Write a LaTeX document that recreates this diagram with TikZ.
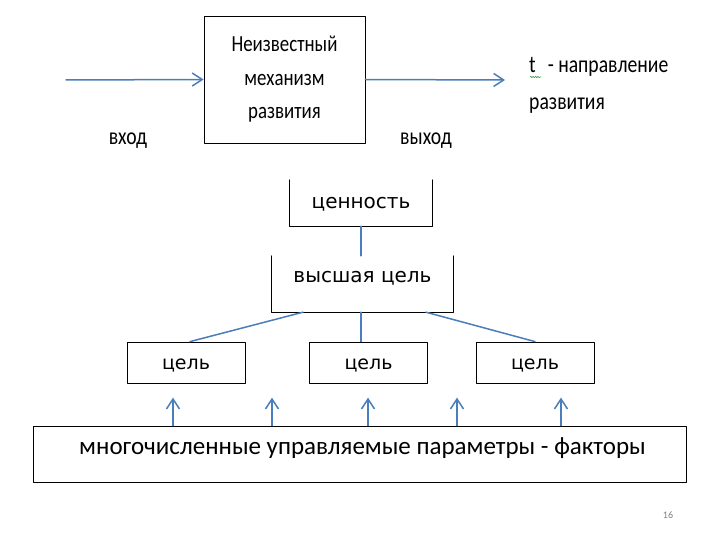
\documentclass[tikz,border=0pt]{standalone}
\usepackage{fontspec}
\setmainfont{Carlito}
\newfontfamily\narrowfont[FakeStretch=0.82]{Carlito}
\newfontfamily\dejavu{DejaVu Sans}
\usetikzlibrary{arrows.meta,calc,positioning,decorations.pathmorphing}
\definecolor{flowblue}{RGB}{74,126,187}
\definecolor{spellgreen}{RGB}{60,160,60}

\begin{document}
\begin{tikzpicture}[x=1pt,y=-1pt,>={Straight Barb[length=10pt,width=13pt]},line cap=round,line join=round,
  flow/.style={flowblue,line width=1.5pt},
  frame/.style={draw=black,line width=0.8pt},
  toptext/.style={font=\narrowfont\fontsize{24}{28}\selectfont,inner sep=0pt},
  goal/.style={frame,minimum width=118pt,inner sep=0pt,text height=27pt,text depth=14pt,
    font=\dejavu\fontsize{19}{22}\selectfont}]
 \useasboundingbox (0,0) rectangle (720,540);
 % black box
 \node[frame,minimum width=161pt,minimum height=127pt,align=center,
  font=\narrowfont\fontsize{23}{33.5}\selectfont] (mech) at (284.5,79.5)
  {Неизвестный\\механизм\\развития};
 \coordinate (in) at (66,80);
 \coordinate (out) at (505,80);
 \draw[->,flow] (in) -- (mech.west);
 \draw[->,flow] (mech.east) -- (out);
 \node[toptext,anchor=base] (inlabel) at (128,145) {вход};
 \node[toptext,anchor=base] (outlabel) at (426,145) {выход};
 \node[toptext,anchor=base west] (dir) at (529,73) {t\enspace- направление};
 \node[toptext,anchor=base west] (dir2) at (529,110) {развития};
 \draw[spellgreen,line width=0.6pt,decorate,
  decoration={snake,amplitude=0.7pt,segment length=2.4pt}] (530,77) -- (541,77);
 % tree of goals
 \node[minimum width=142pt,inner sep=0pt,text height=28pt,text depth=18pt,
  font=\dejavu\fontsize{20}{24}\selectfont] (value) at (361,203) {ценность};
 \draw[frame] (value.north west) -- (value.south west)
  -- (value.south east) -- (value.north east);
 \node[minimum width=181pt,inner sep=0pt,text height=26pt,text depth=30pt,
  font=\dejavu\fontsize{20}{24}\selectfont] (high) at (362.5,284) {высшая цель};
 \draw[frame] (high.north west) -- (high.south west)
  -- (high.south east) -- (high.north east);
 \node[goal] (goalL) at (186,362.5) {цель};
 \node[goal] (goalM) at (368.5,362.5) {цель};
 \node[goal] (goalR) at (535,362.5) {цель};
 \draw[flow] (value.south) -- (value.south |- high.north);
 \draw[flow] (303,0 |- high.south) -- (190,0 |- goalL.north);
 \draw[flow] (361,0 |- high.south) -- (361,0 |- goalM.north);
 \draw[flow] (426,0 |- high.south) -- (535,0 |- goalR.north);
 % factors
 \node[frame,minimum width=653pt,inner sep=0pt,text height=28pt,text depth=28pt,
  font=\fontsize{25}{28}\selectfont] (params) at (359.5,454)
  {\hspace*{6pt}многочисленные управляемые параметры - факторы};
 \foreach \x in {173,272,368,457,561}
  \draw[->,flow] (\x,0 |- params.north) -- ++(0,-28);
 \node[text=gray,font=\fontsize{10}{12}\selectfont] (page) at (668,515) {16};
\end{tikzpicture}
\end{document}
